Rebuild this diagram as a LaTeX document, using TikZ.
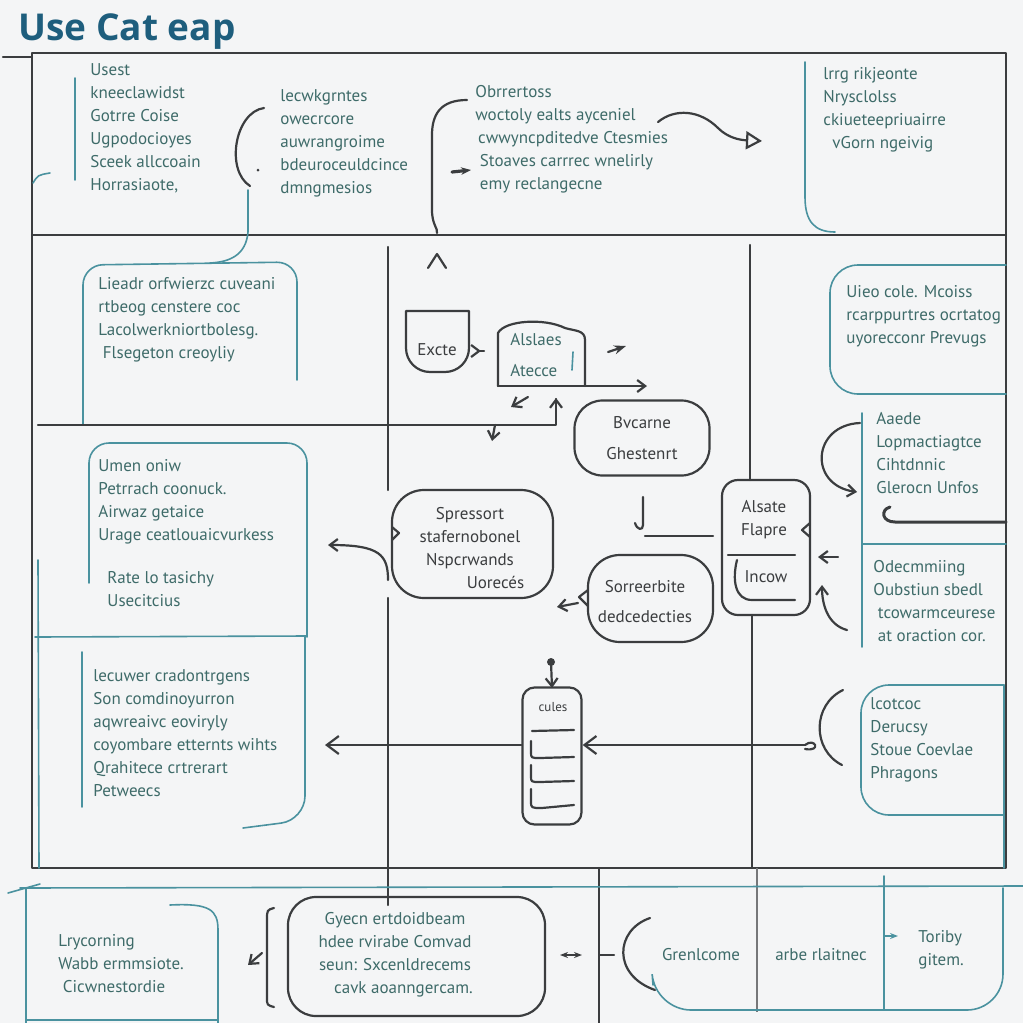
\documentclass[tikz,border=0pt]{standalone}
\usepackage{fontspec}
\setmainfont{PT Sans}
\newfontfamily\titlefont{Open Sans}
\usetikzlibrary{arrows.meta}

\definecolor{inkdark}{HTML}{3B3D3F}
\definecolor{inkteal}{HTML}{3E6B69}
\definecolor{lineteal}{HTML}{4A929F}
\definecolor{titleblue}{HTML}{1E5E7D}
\definecolor{paper}{HTML}{F4F5F6}

\tikzset{
  darkline/.style={draw=inkdark, line width=1.1pt, line cap=round, line join=round},
  tealline/.style={draw=lineteal, line width=0.8pt, line cap=round},
  hand/.style={anchor=north west, inner sep=0pt, align=left, text=inkteal, font=\fontsize{8.5}{11.5}\selectfont},
  darktext/.style={inner sep=0pt, align=center, text=inkdark, font=\fontsize{8.5}{11.5}\selectfont},
  barb/.style={-{Straight Barb[length=4pt,width=6pt]}},
}

\begin{document}
\begin{tikzpicture}[x=0.5pt,y=0.5pt,yscale=-1,xscale=1]
\path [use as bounding box, fill=paper] (0,0) rectangle (1023,1023);

% Title
\draw (18,40) node [anchor=base west, inner sep=0pt, text=titleblue, font=\titlefont\bfseries\fontsize{18.5}{20}\selectfont] (title) {Use Cat eap};

% Frame and rows
\draw [darkline] (32,53) rectangle (1006,868);
\draw [darkline] (3,57) -- (32,57);
\draw [darkline] (32,235) -- (1006,235);
\draw [darkline] (388,247) -- (388,490);
\draw [darkline] (388,598) -- (388,905);
\draw [darkline] (750,245) -- (750,480);
\draw [darkline] (752,615) -- (752,868);
\draw [darkline] (599,868) -- (599,1023);
\draw [draw=inkdark!70, line width=0.8pt] (757,868) -- (757,1012);
\draw [tealline] (20,888) -- (1023,886);

%% top row
\draw [tealline] (75,78) -- (75,180);
\draw [tealline] (33,183) .. controls (38,175) .. (50,173);
\draw (90,63) node [hand] (usest) {Usest\\kneeclawidst\\Gotrre Coise\\Ugpodocioyes\\Sceek allccoain\\Horrasiaote,};
\draw [darkline] (264,108) .. controls (235,112) and (225,170) .. (250,186);
\fill [inkdark] (258,170) circle (1.5);
\draw [tealline] (248,190) -- (248,232) .. controls (246,255) and (230,262) .. (210,263);
\draw (280,89) node [hand] (lecw) {lecwkgrntes\\owecrcore\\auwrangroime\\bdeuroceuldcince\\dmngmesios};
\draw [darkline] (467,100) .. controls (440,100) and (432,115) .. (432,135) -- (432,210) .. controls (432,225) and (438,228) .. (437,233);
\draw [darkline] (428,268) -- (437,254) -- (446,268);
\draw [darkline, line width=1.6pt, -{Stealth[length=5pt]}] (452,172) -- (471,170);
\draw (475,85) node [hand] (obrr) {Obrrertoss\\woctoly ealts ayceniel\\\,cwwyncpditedve Ctesmies\\\ Stoaves carrrec wnelirly\\\ emy reclangecne};
\draw [darkline, -{Triangle[open,length=8pt,width=9pt]}] (658,122) .. controls (675,108) and (700,110) .. (718,128) .. controls (728,138) and (740,140) .. (762,141);
\draw [tealline] (805,62) -- (805,197) .. controls (805,222) and (815,232) .. (835,232);
\draw (823,67) node [hand] (lrrg) {lrrg rikjeonte\\Nrysclolss\\ckiueteepriuairre\\\ \ vGorn ngeivig};

%% left column
\draw [tealline, rounded corners=10] (83,425) -- (83,265) -- (297,262) -- (297,380);
\draw (98,277) node [hand] (lieadr) {Lieadr orfwierzc cuveani\\rtbeog censtere coc\\Lacolwerkniortbolesg.\\\ Flsegeton creoyliy};
\draw [darkline] (38,425) -| (556,399);
\draw [darkline, barb] (556,420) -- (556,398);
\draw [tealline, rounded corners=10] (89,583) -- (89,443) -- (307,443) -- (307,637);
\draw [tealline] (35,637) -- (307,636);
\draw [tealline] (38,560) -- (39,868);
\draw (98,459) node [hand] (umen) {Umen oniw\\Petrrach coonuck.\\Airwaz getaice\\Urage ceatlouaicvurkess\\[10pt]\ \ Rate lo tasichy\\\ \ Usecitcius};
\draw [darkline, barb] (388,580) .. controls (388,555) and (380,545) .. (328,545);
\draw [tealline] (82,652) -- (82,807);
\draw [tealline, rounded corners=12] (305,637) -- (305,820) -- (243,828);
\draw (93,669) node [hand] (lecuwer) {lecuwer cradontrgens\\Son comdinoyurron\\aqwreaivc eoviryly\\coyombare etternts wihts\\Qrahitece crtrerart\\Petweecs};

%% centre
\draw [darkline] (406,311) [rounded corners=12] -- (406,372) -- (469,372) [sharp corners] -- (469,311) -- cycle;
\draw (437,350) node [darktext] (excte) {Excte};
\draw [darkline, {Straight Barb[reversed,length=4pt,width=6pt]}-] (470,351) -- (484,351);
\draw [darkline] (498,386) -- (498,333) .. controls (505,320) and (545,318) .. (565,328) .. controls (575,331) and (585,330) .. (585,340) -- (585,386);
\draw [darkline, barb] (498,386) -- (647,386);
\draw (510,333) node [hand] (alslaes) {Alslaes\\[4pt]Atecce};
\draw [tealline] (573,352) -- (572,370);
\draw [darkline, -{Stealth[length=6pt]}] (608,352) -- (626,346);
\draw [darkline, barb] (528,397) -- (511,407);
\draw [darkline, barb] (495,425) -- (492,441);
\draw (642,438) node [darkline, draw, rounded corners=14pt, minimum width=67.5pt, minimum height=37.5pt, text=inkdark, align=center, font=\fontsize{8.5}{11.5}\selectfont] (bvcarne) {Bvcarne\\[4pt]Ghestenrt};
\draw [darkline, rounded corners=16] (392,490) rectangle (553,598);
\draw [darkline] (392,527) -- (399,533) -- (392,540);
\draw (470,548) node [darktext] (spressort) {Spressort\\stafernobonel\\Nspcrwands\\\hspace*{3em}Uorec\'es};
\draw [darkline] (643,497) -- (643,525) .. controls (643,531) and (637,530) .. (635,523);
\draw [darkline] (645,536) -- (713,536);
\draw [darkline, rounded corners=16] (588,555) rectangle (713,642);
\draw [darkline] (588,590) -- (579,597) -- (588,606);
\draw (645,602) node [darktext] (sorreer) {Sorreerbite\\[3.5pt]dedcedecties};
\draw [darkline, barb] (578,603) -- (557,607);
\draw [darkline, rounded corners=8] (722,480) rectangle (810,615);
\draw [darkline] (810,523) -- (802,530) -- (810,537);
\draw (764,520) node [darktext] (alsate) {Alsate\\Flapre};
\draw [darkline] (728,555) -- (795,555);
\draw [darkline] (737,560) .. controls (732,580) and (735,600) .. (752,600) -- (795,600);
\draw (766,577) node [darktext] (incow) {Incow};
\draw [darkline, barb] (838,557) -- (818,557);
\draw [darkline, barb] (847,630) .. controls (828,625) and (822,605) .. (822,585);

%% cylinder
\draw (552,756) node [darkline, draw, rounded corners=6pt, minimum width=29.5pt, minimum height=68.5pt] (culesbody) {};
\draw (553,707) node [darktext, font=\fontsize{6.5}{8}\selectfont] (cules) {cules};
\draw [darkline] (532,731) -- (574,730);
\draw [darkline] (531,741) -- (531,752) .. controls (531,758) .. (540,758) -- (574,757);
\draw [darkline] (531,765) -- (531,776) .. controls (531,782) .. (540,782) -- (574,781);
\draw [darkline] (531,789) -- (531,801) .. controls (531,808) .. (542,808) -- (574,805);
\fill [inkdark] (551,662) circle (4);
\draw [darkline, barb] (551,662) -- (552,688);
\coordinate (leftend) at (325,745);
\coordinate (loopend) at (805,745);
\draw [darkline, -{Straight Barb[length=6pt,width=9pt]}] (culesbody.west |- leftend) -- (leftend);
\draw [darkline, -{Straight Barb[length=6pt,width=9pt]}] (loopend) -- (culesbody.east |- loopend);
\draw [darkline] (loopend) .. controls (815,737) and (822,752) .. (805,749);

%% right column
\draw [tealline, rounded corners=14] (1006,265) -- (830,265) -- (830,394) -- (1006,394);
\draw (846,285) node [hand] (uieo) {Uieo cole. Mcoiss\\rcarppurtres ocrtatog\\uyorecconr Prevugs};
\draw [tealline] (862,413) -- (862,647);
\draw [darkline, barb] (860,423) .. controls (812,425) and (808,485) .. (857,492);
\draw (876,412) node [hand] (aaede) {Aaede\\Lopmactiagtce\\Cihtdnnic\\Glerocn Unfos};
\draw [darkline, line width=1.5pt] (890,507) .. controls (880,510) and (882,522) .. (895,522) -- (1006,522);
\draw [tealline] (862,544) -- (1006,544);
\draw (873,560) node [hand] (odec) {Odecmmiing\\Oubstiun sbedl\\\ tcowarmceurese\\\ at oraction cor.};
\draw [tealline, rounded corners=14] (1004,685) -- (861,685) -- (861,815) -- (1004,815);
\draw [tealline] (1004,685) -- (1004,868);
\draw (870,697) node [hand] (lcotcoc) {lcotcoc\\Derucsy\\Stoue Coevlae\\Phragons};
\draw [darkline] (843,690) .. controls (812,705) and (812,750) .. (842,765);

%% bottom strip
\draw [tealline] (8,893) -- (40,884);
\draw [tealline] (26,888) -- (26,1023);
\draw [tealline] (170,905) .. controls (210,903) and (218,910) .. (218,930) -- (218,1023);
\draw [tealline] (26,1020) -- (218,1020);
\draw (58,934) node [hand] (lrycor) {Lrycorning\\Wabb ermmsiote.\\\ Cicwnestordie};
\draw [darkline, barb] (262,953) -- (248,965);
\draw [darkline] (274,908) .. controls (267,910) .. (267,920) -- (267,998) .. controls (267,1005) .. (274,1007);
\draw [darkline, rounded corners=14] (288,897) -- (545,897) -- (545,1016) -- (288,1016) -- cycle;
\draw (395,955) node [hand, anchor=center, align=center] (gyecn) {Gyecn ertdoidbeam\\hdee rvirabe Comvad\\seun: Sxcenldrecems\\\hspace*{1em}cavk aoanngercam.};
\draw [darkline, {Stealth[length=4pt]}-{Stealth[length=4pt]}] (560,955) -- (582,955);
\draw [darkline] (600,955) -- (614,955);
\draw [darkline] (650,918) .. controls (615,930) and (612,975) .. (655,990);
\draw [tealline, rounded corners=18] (653,985) -- (655,1010) -- (1003,1010) -- (1003,888);
\draw (701,955) node [hand, anchor=center] (grenl) {Grenlcome};
\draw (821,955) node [hand, anchor=center] (arbe) {arbe rlaitnec};
\draw [tealline] (884,876) -- (884,1010);
\draw [tealline, -{Stealth[length=4pt]}] (884,936) -- (898,936);
\draw (918,930) node [hand] (toriby) {Toriby\\gitem.};

\end{tikzpicture}
\end{document}
